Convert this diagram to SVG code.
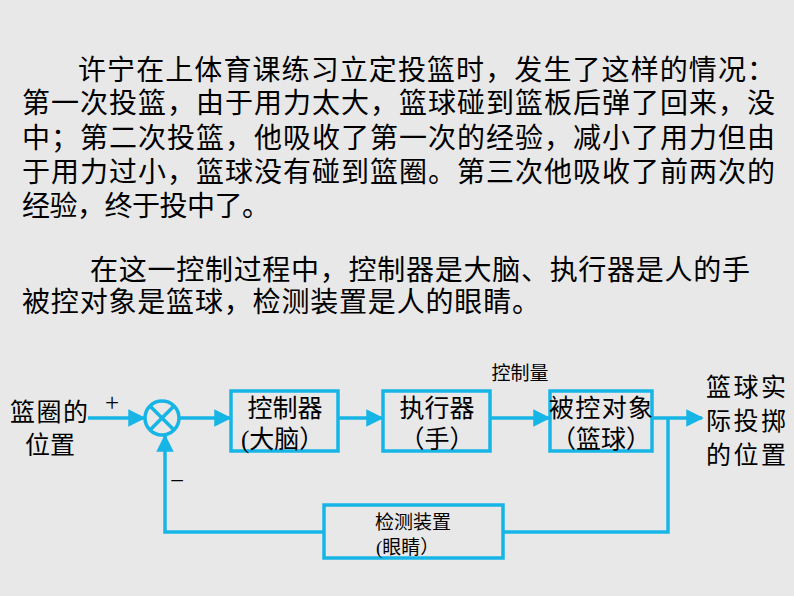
<svg xmlns="http://www.w3.org/2000/svg" width="794" height="596" viewBox="0 0 794 596">
<style>
.t{font-family:"Liberation Serif","Noto Sans CJK SC",serif;fill:#000}
.p{font-size:28px}
.d{font-size:25px}
.s{font-size:19px}
.b{fill:none;stroke:#17b5e6;stroke-width:3.5}
.l{fill:none;stroke:#17b5e6;stroke-width:3.5}
</style>
<defs><marker id="a" markerWidth="5" markerHeight="5" refX="4.5" refY="2.5" orient="auto" markerUnits="strokeWidth"><path d="M0,0L5,2.5L0,5z" fill="#17b5e6"/></marker></defs>
<rect width="794" height="596" fill="#e8e8e8"/>
<g id="text">
<text class="t p" x="78" y="80" textLength="697">许宁在上体育课练习立定投篮时，发生了这样的情况：</text>
<text class="t p" x="22" y="113" textLength="753">第一次投篮，由于用力太大，篮球碰到篮板后弹了回来，没</text>
<text class="t p" x="22" y="148" textLength="753">中；第二次投篮，他吸收了第一次的经验，减小了用力但由</text>
<text class="t p" x="22" y="182" textLength="753">于用力过小，篮球没有碰到篮圈。第三次他吸收了前两次的</text>
<text class="t p" x="22" y="216" textLength="248">经验，终于投中了。</text>
<text class="t p" x="90" y="280" textLength="660">在这一控制过程中，控制器是大脑、执行器是人的手</text>
<text class="t p" x="22" y="312" textLength="518">被控对象是篮球，检测装置是人的眼睛。</text>
</g>
<g id="connectors">
<line class="l" x1="88" y1="418" x2="144" y2="418" marker-end="url(#a)"/>
<line class="l" x1="180" y1="418" x2="230" y2="418" marker-end="url(#a)"/>
<line class="l" x1="338" y1="418" x2="382" y2="418" marker-end="url(#a)"/>
<line class="l" x1="490" y1="418" x2="549" y2="418" marker-end="url(#a)"/>
<line class="l" x1="652" y1="418" x2="702" y2="418" marker-end="url(#a)"/>
<polyline class="l" points="668,418 668,532 503,532"/>
<polyline class="l" points="324,532 165,532 165,436" marker-end="url(#a)"/>
</g>
<g id="input"><text class="t d" x="10" y="421" textLength="78">篮圈的</text><text class="t d" x="25" y="454">位置</text><text class="t d" x="105" y="411">+</text></g>
<g id="sum"><circle cx="162" cy="418" r="17" class="b"/><line class="l" x1="150" y1="406" x2="174" y2="430"/><line class="l" x1="174" y1="406" x2="150" y2="430"/><text class="t d" x="170" y="489">−</text></g>
<g id="controller"><rect x="231" y="391" width="107" height="60" class="b"/><text class="t d" x="285" y="417" text-anchor="middle">控制器</text><text class="t d" x="241" y="448">(大脑）</text></g>
<g id="actuator"><rect x="383" y="391" width="107" height="60" class="b"/><text class="t d" x="437" y="417" text-anchor="middle">执行器</text><text class="t d" x="437" y="448" text-anchor="middle">（手）</text></g>
<text class="t s" x="520" y="380" text-anchor="middle">控制量</text>
<g id="plant"><rect x="550" y="391" width="102" height="60" class="b"/><text class="t d" x="601" y="417" text-anchor="middle" textLength="104">被控对象</text><text class="t d" x="601" y="448" text-anchor="middle">（篮球）</text></g>
<g id="output"><text class="t d" x="706" y="396" textLength="80">篮球实</text><text class="t d" x="706" y="430" textLength="80">际投掷</text><text class="t d" x="706" y="464" textLength="80">的位置</text></g>
<g id="sensor"><rect x="324" y="505" width="179" height="53" class="b"/><text class="t s" x="413" y="529" text-anchor="middle">检测装置</text><text class="t s" x="376" y="554">(眼睛）</text></g>
</svg>
